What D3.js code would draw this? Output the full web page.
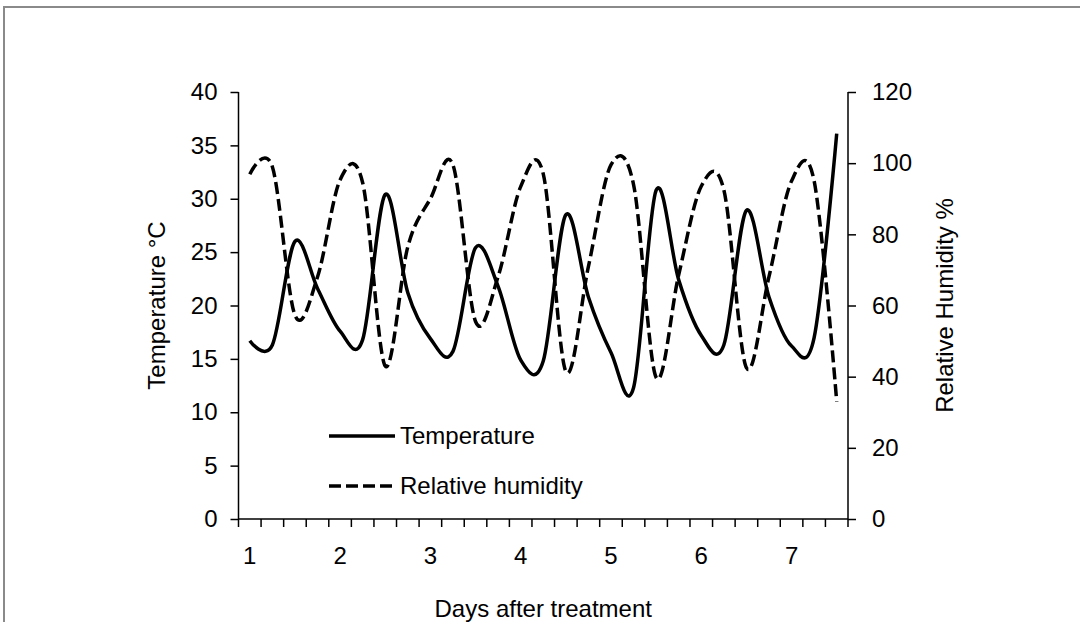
<!DOCTYPE html>
<html>
<head>
<meta charset="utf-8">
<script src="https://cdn.jsdelivr.net/npm/d3@7/dist/d3.min.js"></script>
<style>
  html, body { margin: 0; padding: 0; background: #fff; }
  svg { display: block; }
  text { font-family: "Liberation Sans", Arial, sans-serif; fill: #000; }
</style>
</head>
<body>
<svg id="chart" width="1080" height="622"></svg>
<script>
// Categories: 6-hourly readings, days after treatment
const categories = [1, 1.25, 1.5, 1.75, 2, 2.25, 2.5, 2.75, 3, 3.25, 3.5, 3.75, 4, 4.25, 4.5, 4.75,
                    5, 5.25, 5.5, 5.75, 6, 6.25, 6.5, 6.75, 7, 7.25, 7.5];
const temperature = [16.7, 16.3, 26.0, 21.6, 17.6, 16.8, 30.4, 21.2, 16.9, 15.7, 25.4, 21.8, 14.9, 14.8,
                     28.5, 20.8, 15.6, 12.3, 30.8, 22.4, 17.2, 16.3, 28.9, 20.8, 16.2, 17.0, 36.1];
const humidity = [96.9, 99.0, 57.3, 68.0, 95.3, 94.5, 43.0, 76.5, 90.0, 99.5, 55.5, 68.1, 93.4, 97.0,
                  41.5, 70.9, 99.5, 94.0, 39.8, 68.6, 93.5, 92.5, 42.5, 68.1, 95.0, 95.0, 33.0];
const xTickLabels = [1, 2, 3, 4, 5, 6, 7];
const tempTicks = [0, 5, 10, 15, 20, 25, 30, 35, 40];
const rhTicks = [0, 20, 40, 60, 80, 100, 120];
const seriesNames = ["Temperature", "Relative humidity"];

(function () {
const svg = d3.select("#chart");
const pL = 238.5, pR = 848, pT = 92, pB = 519;
const fs = 24;

// frame
svg.append("rect").attr("x", 4).attr("y", 7).attr("width", 1200).attr("height", 800)
  .attr("fill", "none").attr("stroke", "#8a8a8a").attr("stroke-width", 2);

const x = d3.scaleBand().domain(categories.map((d, i) => i)).range([pL, pR]).padding(0);
const xc = i => x(i) + x.bandwidth() / 2;
const yT = d3.scaleLinear().domain([0, 40]).range([pB, pT]);
const yH = d3.scaleLinear().domain([0, 120]).range([pB, pT]);

const gL = svg.append("g").attr("transform", `translate(${pL},0)`)
  .call(d3.axisLeft(yT).tickValues(tempTicks).tickSize(8).tickPadding(13).tickFormat(d3.format("d")));
const gR = svg.append("g").attr("transform", `translate(${pR},0)`)
  .call(d3.axisRight(yH).tickValues(rhTicks).tickSize(8).tickPadding(16).tickFormat(d3.format("d")));

const boundaries = categories.map((d, i) => x(i)).concat([pR]);
const gB = svg.append("g").attr("transform", `translate(0,${pB})`);
gB.append("line").attr("x1", pL).attr("x2", pR).attr("stroke", "#000").attr("stroke-width", 1.5);
gB.selectAll("line.tk").data(boundaries).join("line").attr("class", "tk")
  .attr("x1", d => d).attr("x2", d => d).attr("y1", 0).attr("y2", 8)
  .attr("stroke", "#000").attr("stroke-width", 1.5);
gB.selectAll("text").data(xTickLabels).join("text")
  .attr("x", d => xc(categories.indexOf(d)))
  .attr("y", 45).attr("text-anchor", "middle").attr("font-size", fs)
  .text(d => d);

[gL, gR].forEach(g => {
  g.select(".domain").attr("stroke", "#000").attr("stroke-width", 1.5).attr("d", `M0,${pB}V${pT}`);
  g.selectAll(".tick line").attr("stroke", "#000").attr("stroke-width", 1.5);
  g.selectAll(".tick text").attr("font-size", fs).attr("font-family", "Liberation Sans, Arial, sans-serif").attr("fill", "#000");
});

svg.append("text").attr("transform", `translate(165,${(pT + pB) / 2}) rotate(-90)`)
  .attr("text-anchor", "middle").attr("font-size", fs).text("Temperature °C");
svg.append("text").attr("transform", `translate(953,${(pT + pB) / 2}) rotate(-90)`)
  .attr("text-anchor", "middle").attr("font-size", fs).text("Relative Humidity %");
svg.append("text").attr("x", (pL + pR) / 2).attr("y", 617)
  .attr("text-anchor", "middle").attr("font-size", fs).text("Days after treatment");

const curve = d3.curveCatmullRom.alpha(0);
const lineT = d3.line().x((d, i) => xc(i)).y(d => yT(d)).curve(curve);
const lineH = d3.line().x((d, i) => xc(i)).y(d => yH(d)).curve(curve);
svg.append("path").datum(humidity).attr("d", lineH).attr("fill", "none")
  .attr("stroke", "#000").attr("stroke-width", 3.5).attr("stroke-dasharray", "12,5");
svg.append("path").datum(temperature).attr("d", lineT).attr("fill", "none")
  .attr("stroke", "#000").attr("stroke-width", 3.5).attr("stroke-linejoin", "round");

const legY = [436, 486];
seriesNames.forEach((name, k) => {
  svg.append("line").attr("x1", 329).attr("x2", 395).attr("y1", legY[k]).attr("y2", legY[k])
    .attr("stroke", "#000").attr("stroke-width", 3.5)
    .attr("stroke-dasharray", k === 1 ? "12,5" : null);
  svg.append("text").attr("x", 400).attr("y", legY[k]).attr("dy", "0.35em")
    .attr("font-size", fs).text(name);
});
})();
</script>
</body>
</html>
